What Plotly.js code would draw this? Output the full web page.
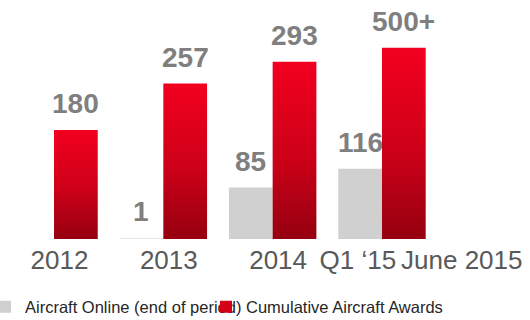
<!DOCTYPE html>
<html><head><meta charset="utf-8">
<script src="https://cdn.plot.ly/plotly-3.0.1.min.js"></script>
<style>html,body{margin:0;padding:0;background:#fff}</style>
</head><body>
<div id="chart" style="width:530px;height:320px"></div>
<script>
// ---- data ----
const groupIndex = [0, 1, 2, 3];
const onlineValues = [null, 1, 85, 116];
const onlineLabels = ['', '1', '85', '116'];
// last award bar is drawn shortened in the original (label "500+")
const awardValues = [180, 257, 293, 316];
const awardLabels = ['180', '257', '293', '500+'];
const tickLabels = ['2012', '2013', '2014', 'Q1 \u201815', 'June 2015'];
const seriesNames = ['Aircraft Online (end of period)', 'Cumulative Aircraft Awards'];

// ---- layout helpers ----
const FONT = 'Liberation Sans, Arial, Helvetica, sans-serif';
const tickPos = [0.05, 1.05, 2.05, 2.78, 3.73];
const barOffset = 0.2;

const data = [
  {type:'bar', x:groupIndex, y:onlineValues, name:seriesNames[0],
   marker:{color:'#d0d0d0'}, legend:'legend', hoverinfo:'none'},
  {type:'bar', x:groupIndex, y:awardValues, name:seriesNames[1],
   marker:{color:'#d40018'}, legend:'legend2', hoverinfo:'none'}
];

const annotations = [];
groupIndex.forEach((g, i) => {
  if (onlineValues[i] !== null && onlineLabels[i]) {
    annotations.push({x:g - barOffset, y:onlineValues[i], xref:'x', yref:'y', text:onlineLabels[i],
      showarrow:false, yanchor:'bottom', yshift:9,
      font:{family:FONT, size:28, color:'#7f7f7f', weight:'bold'}});
  }
  annotations.push({x:g + barOffset, y:awardValues[i], xref:'x', yref:'y', text:awardLabels[i],
    showarrow:false, yanchor:'bottom', yshift:9,
    font:{family:FONT, size:28, color:'#7f7f7f', weight:'bold'}});
});

const legendBase = {orientation:'h', xanchor:'left', yref:'container', y:13/320, yanchor:'middle',
  font:{family:FONT, size:16.5, color:'#262626'}, bgcolor:'rgba(0,0,0,0)', itemwidth:30};

const layout = {
  width:530, height:320,
  margin:{l:0, r:0, t:20, b:81, autoexpand:false},
  paper_bgcolor:'#ffffff', plot_bgcolor:'#ffffff',
  font:{family:FONT},
  barmode:'group', bargap:0.2, bargroupgap:0,
  xaxis:{range:[-0.494, 4.354], tickmode:'array', tickvals:tickPos, ticktext:tickLabels,
    showgrid:false, zeroline:false, showline:false, ticks:'', ticklabelstandoff:3,
    tickfont:{family:FONT, size:26, color:'#595959'}},
  yaxis:{range:[0, 362], visible:false, showgrid:false, zeroline:false},
  showlegend:true,
  legend:Object.assign({}, legendBase, {x:-15/530}),
  legend2:Object.assign({}, legendBase, {x:206/530}),
  annotations:annotations
};

Plotly.newPlot('chart', data, layout, {staticPlot:true}).then(gd => {
  const ns = 'http://www.w3.org/2000/svg';
  const svg = gd.querySelector('svg.main-svg');
  let defs = svg.querySelector('defs');
  if (!defs) { defs = document.createElementNS(ns, 'defs'); svg.insertBefore(defs, svg.firstChild); }
  const lg = document.createElementNS(ns, 'linearGradient');
  lg.setAttribute('id', 'redGrad');
  lg.setAttribute('x1', '0'); lg.setAttribute('y1', '0');
  lg.setAttribute('x2', '0'); lg.setAttribute('y2', '1');
  [['0%', '#f2001f'], ['55%', '#cc0018'], ['100%', '#950010']].forEach(([o, c]) => {
    const s = document.createElementNS(ns, 'stop');
    s.setAttribute('offset', o); s.setAttribute('stop-color', c);
    lg.appendChild(s);
  });
  defs.appendChild(lg);
  const traces = gd.querySelectorAll('.barlayer .trace');
  if (traces[1]) traces[1].querySelectorAll('path').forEach(p => { p.style.fill = 'url(#redGrad)'; });
});
</script>
</body></html>
